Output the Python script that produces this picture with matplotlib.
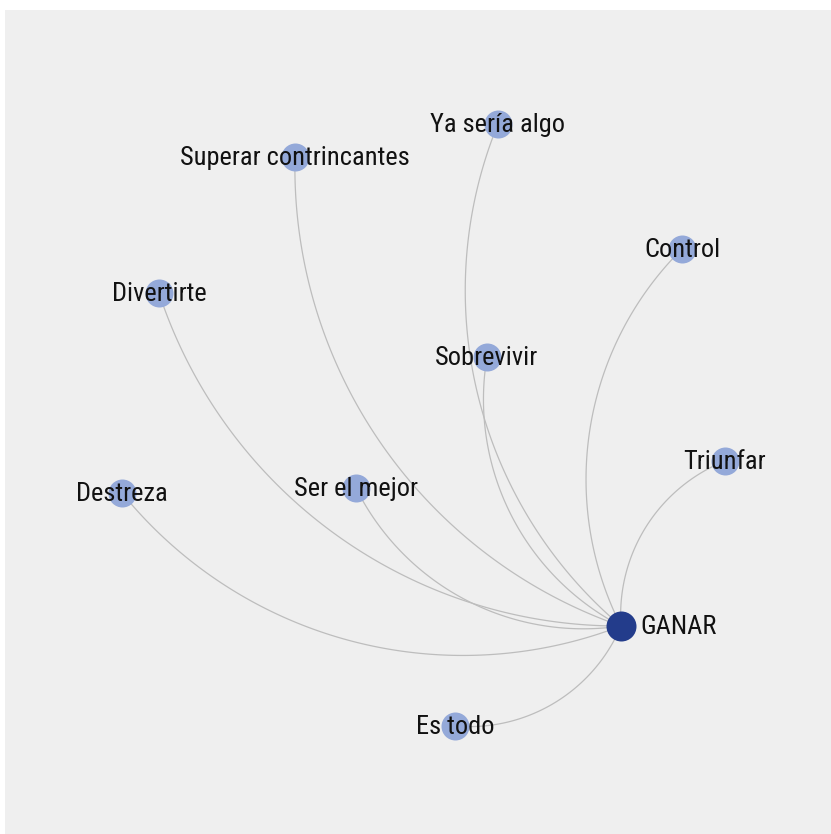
import matplotlib
matplotlib.use("Agg")
import numpy as np
import matplotlib.pyplot as plt

# Data: node labels and positions (pixel-like layout coordinates)
center_label = "GANAR"
center_pos = (621, 626)
labels = ["Ya sería algo", "Superar contrincantes", "Control", "Divertirte",
          "Sobrevivir", "Triunfar", "Ser el mejor", "Destreza", "Es todo"]
xs = [498, 295, 682, 159, 487, 725, 356, 122, 455]
ys = [124, 157, 249, 293, 357, 461, 488, 493, 726]

W, H = 831, 834
fig = plt.figure(figsize=(W / 100, H / 100), dpi=100, facecolor="white")
ax = fig.add_axes([5 / W, 0, (W - 5) / W, (H - 10) / H])
ax.set_facecolor("#efefef")
ax.set_xlim(5, W)
ax.set_ylim(H, 10)
ax.axis("off")
ax.add_patch(plt.Rectangle((5, 10), W - 5, H - 10, facecolor="#efefef",
                           edgecolor="none", zorder=0))

font = ["Roboto Condensed", "Roboto", "DejaVu Sans"]


def arc_points(s, t, k=0.85, n=120):
    s = np.asarray(s, float)
    t = np.asarray(t, float)
    d = np.hypot(*(t - s))
    r = k * d
    u = (t - s) / d
    b = np.array([u[1], -u[0]])  # bulge side (y-down coordinates)
    c = (s + t) / 2 - b * np.sqrt(r ** 2 - (d / 2) ** 2)
    a0 = np.arctan2(*(s - c)[::-1])
    a1 = np.arctan2(*(t - c)[::-1])
    da = (a1 - a0 + np.pi) % (2 * np.pi) - np.pi
    a = a0 + np.linspace(0, 1, n) * da
    return c[0] + r * np.cos(a), c[1] + r * np.sin(a)


# Edges: circular arcs from center to each node
for x, y in zip(xs, ys):
    px, py = arc_points(center_pos, (x, y))
    ax.plot(px, py, color="#bdbdbd", lw=0.9, zorder=1, solid_capstyle="round")

# Nodes
ax.scatter(xs, ys, s=(14 * 2 * 0.72) ** 2, color="#94a9d9", zorder=2, linewidths=0)
ax.scatter([center_pos[0]], [center_pos[1]], s=(15 * 2 * 0.72) ** 2, color="#233c8b",
           zorder=2, linewidths=0)

# Labels
for lab, x, y in zip(labels, xs, ys):
    ax.text(x, y + 1, lab, ha="center", va="center", fontsize=19, color="#111111",
            family=font, zorder=3)
ax.text(center_pos[0] + 19, center_pos[1] + 1, center_label, ha="left", va="center",
        fontsize=19, color="#111111", family=font, zorder=3)

fig.savefig("out.png", dpi=100, facecolor="white")
